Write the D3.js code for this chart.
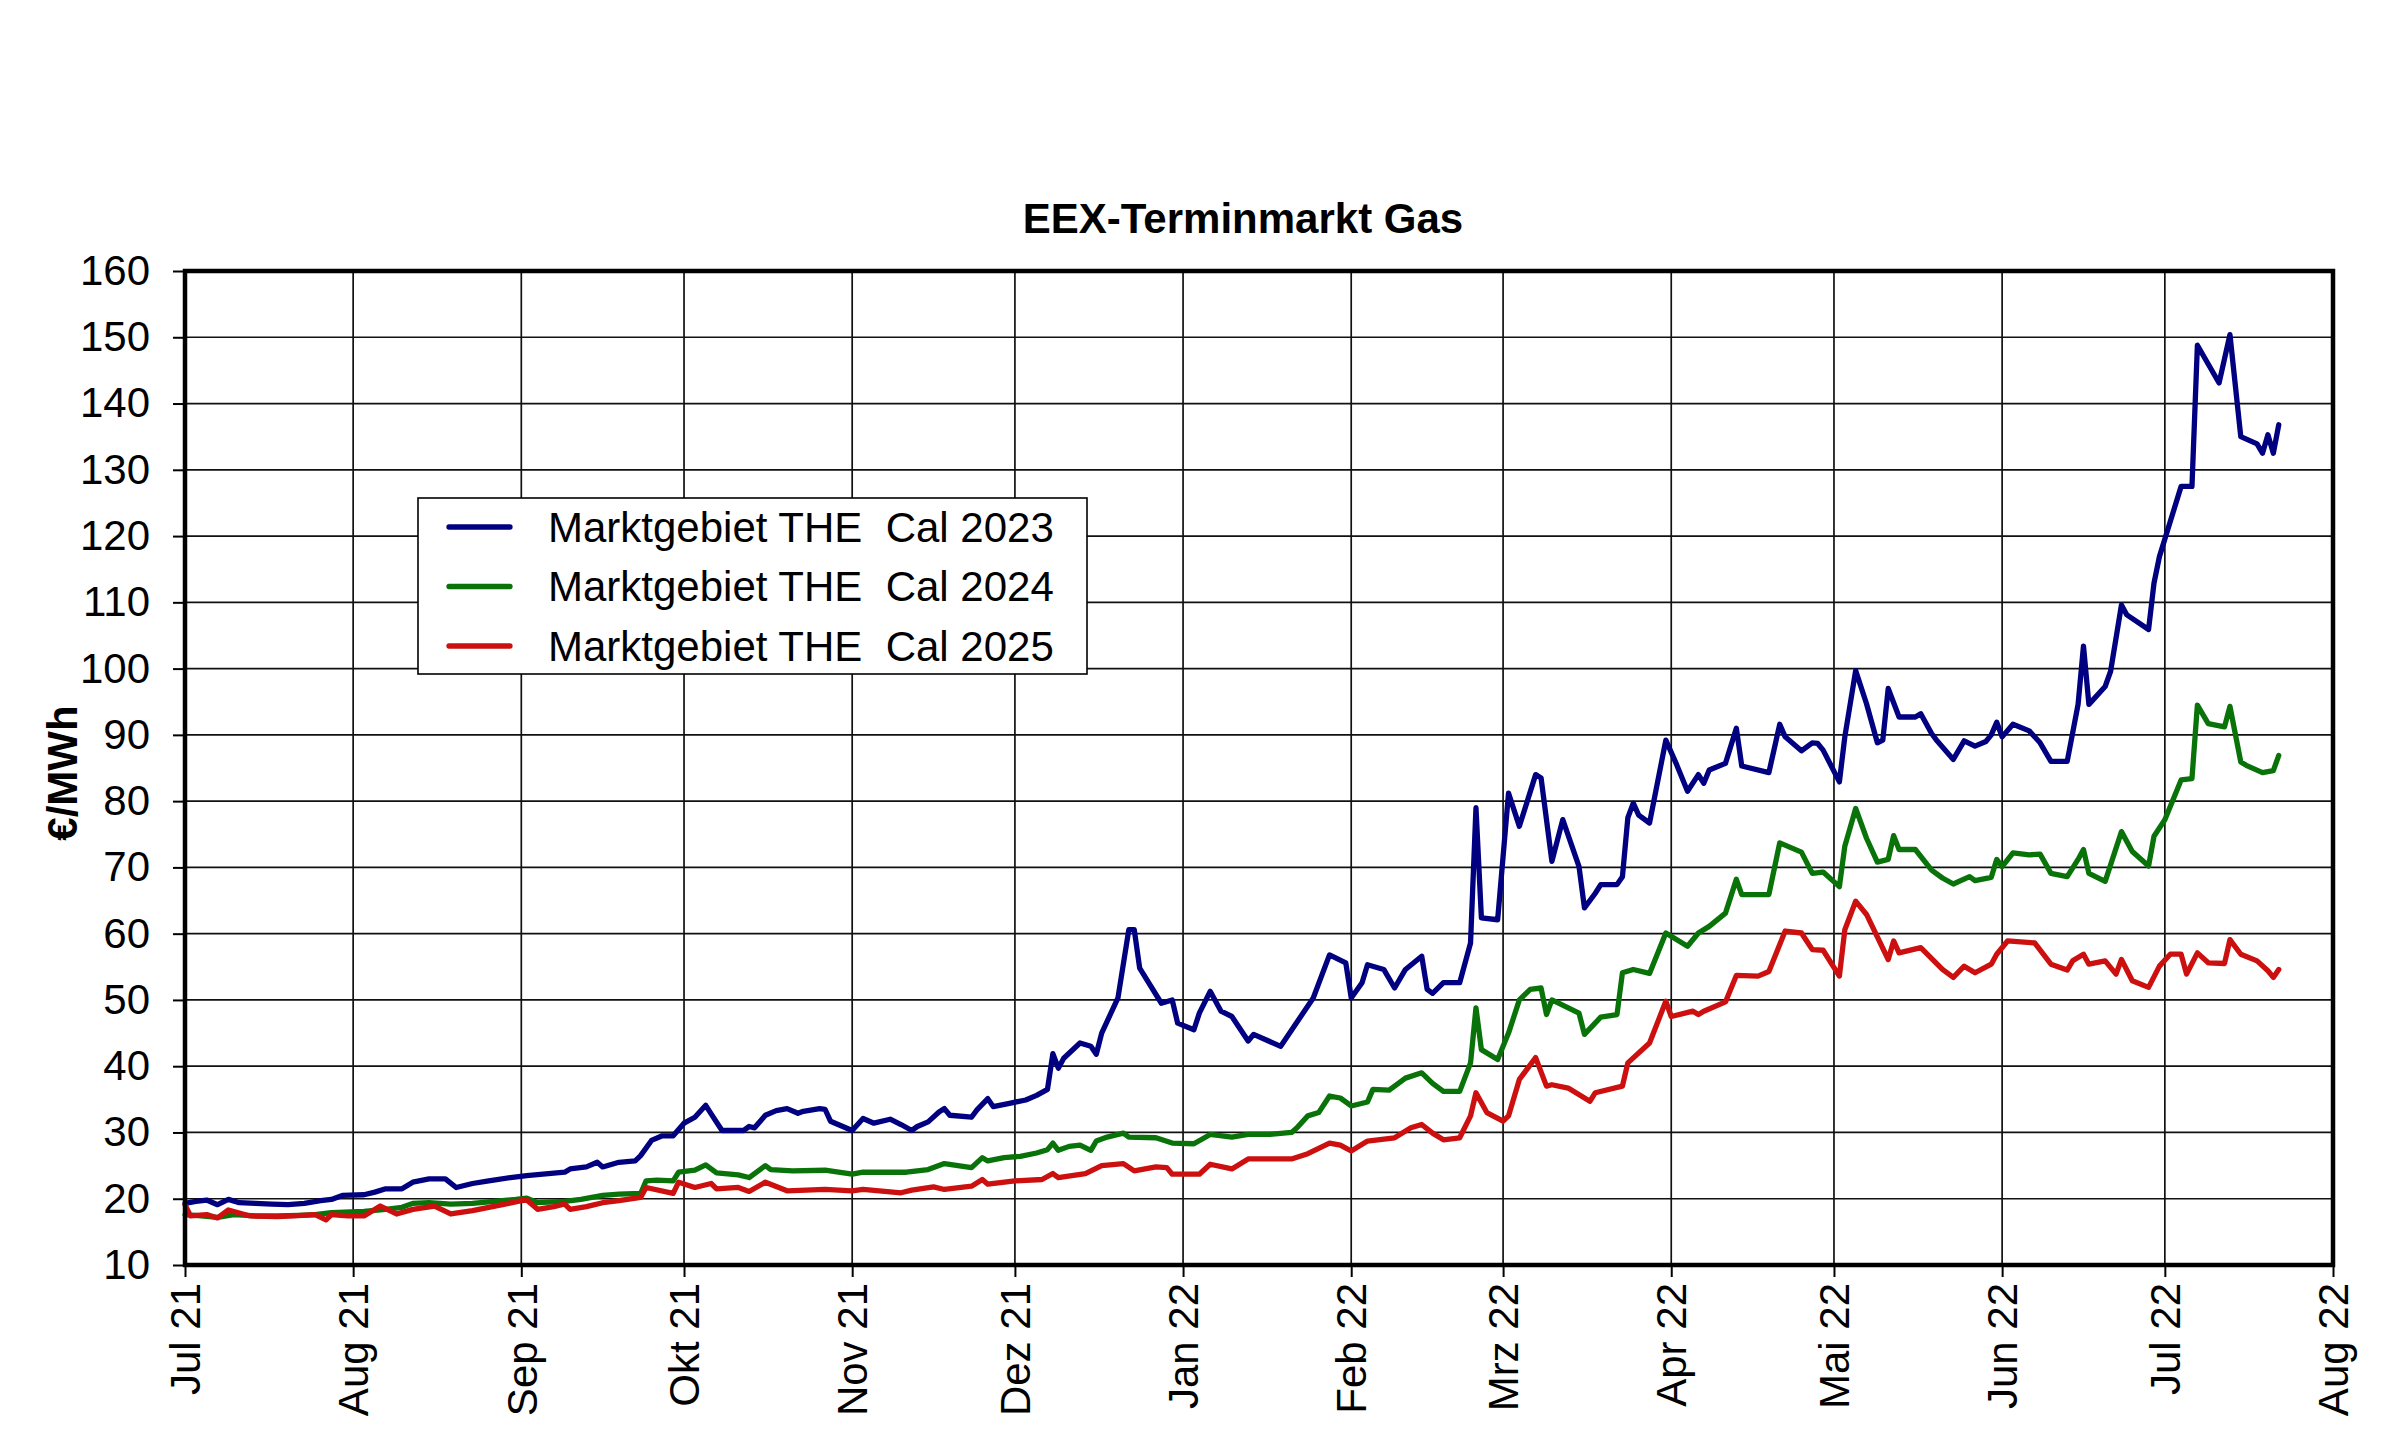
<!DOCTYPE html>
<html><head><meta charset="utf-8">
<script src="https://cdn.jsdelivr.net/npm/d3@7"></script>
<style>
body{margin:0;background:#fff}
text{font-family:"Liberation Sans",Arial,sans-serif;fill:#000}
</style>
</head><body>
<svg id="c" width="2400" height="1447"></svg>
<script>
const chartTitle = "EEX-Terminmarkt Gas";
const yAxisLabel = "€/MWh";
const monthTicks = ["210701","210801","210901","211001","211101","211201","220101","220201","220301","220401","220501","220601","220701","220801"];
const monthLabels = ["Jul 21","Aug 21","Sep 21","Okt 21","Nov 21","Dez 21","Jan 22","Feb 22","Mrz 22","Apr 22","Mai 22","Jun 22","Jul 22","Aug 22"];
const yTicks = [10,20,30,40,50,60,70,80,90,100,110,120,130,140,150,160];
const seriesNames = ["Marktgebiet THE  Cal 2023","Marktgebiet THE  Cal 2024","Marktgebiet THE  Cal 2025"];
const seriesColors = ["#000080","#097309","#cc1010"];

const dates2023 = ["210701","210703","210705","210707","210709","210711","210714","210717","210720","210723","210726","210728","210730","210803","210805","210807","210810","210812","210815","210818","210820","210823","210826","210830","210902","210905","210909","210910","210913","210915","210916","210919","210922","210923","210925","210927","210929","211001","211003","211005","211006","211008","211012","211013","211014","211016","211018","211020","211022","211023","211026","211027","211028","211101","211103","211105","211108","211110","211112","211113","211115","211117","211118","211119","211123","211124","211126","211127","211130","211203","211205","211207","211208","211209","211210","211213","211215","211216","211217","211220","211222","211223","211224","211228","211230","211231","220103","220104","220106","220108","220110","220113","220114","220119","220125","220128","220131","220201","220203","220204","220207","220209","220211","220214","220215","220216","220218","220221","220223","220224","220225","220228","220302","220304","220307","220308","220310","220312","220315","220316","220318","220319","220322","220323","220324","220325","220326","220328","220331","220402","220404","220406","220407","220408","220411","220413","220414","220419","220421","220422","220425","220427","220428","220429","220502","220503","220505","220507","220509","220510","220511","220513","220516","220517","220519","220520","220523","220525","220527","220529","220530","220531","220601","220603","220606","220608","220610","220613","220615","220616","220617","220620","220621","220623","220624","220628","220629","220630","220702","220704","220706","220707","220711","220713","220715","220718","220719","220720","220721","220722"];
const values2023 = [19.3,19.6,19.8,19.1,19.9,19.4,19.3,19.2,19.1,19.3,19.7,19.9,20.5,20.6,21.0,21.5,21.5,22.5,23.0,23.0,21.7,22.3,22.7,23.2,23.5,23.7,24.0,24.5,24.8,25.5,24.8,25.5,25.7,26.5,28.8,29.5,29.5,31.4,32.3,34.1,32.8,30.3,30.3,30.9,30.7,32.6,33.3,33.6,32.9,33.2,33.6,33.5,31.7,30.3,32.1,31.4,32.0,31.2,30.3,30.9,31.6,33.1,33.6,32.6,32.3,33.4,35.1,33.9,34.4,34.9,35.6,36.5,41.9,39.7,41.2,43.5,43.0,41.8,45.0,50.3,60.6,60.6,54.8,49.5,50.0,46.5,45.5,48.0,51.3,48.3,47.5,43.8,44.8,43.0,50.3,56.8,55.6,50.3,52.6,55.3,54.6,51.8,54.6,56.6,51.6,51.0,52.6,52.6,58.6,79.0,62.4,62.1,81.2,76.2,84.0,83.5,70.9,77.2,70.1,63.9,66.1,67.4,67.4,68.6,77.5,79.7,77.9,76.7,89.2,85.5,81.5,84.0,82.7,84.7,85.7,91.0,85.3,84.3,91.6,89.7,87.6,88.8,88.7,87.7,82.9,89.7,99.7,94.7,88.8,89.2,97.0,92.7,92.7,93.2,90.2,89.1,86.3,89.1,88.3,89.0,90.0,91.9,89.7,91.6,90.6,88.8,86.0,86.0,94.6,103.4,94.6,97.3,99.6,109.6,108.1,105.9,112.9,116.9,122.2,127.5,127.5,148.8,143.1,150.4,135.0,133.9,132.5,135.3,132.5,136.8];

const dates2024 = ["210701","210704","210707","210710","210714","210718","210722","210725","210728","210803","210807","210810","210812","210815","210819","210823","210827","210831","210902","210904","210909","210912","210916","210919","210923","210924","210926","210929","210930","211003","211005","211007","211011","211013","211016","211017","211021","211027","211101","211103","211111","211115","211118","211123","211125","211126","211129","211202","211205","211207","211208","211209","211211","211213","211215","211216","211218","211221","211222","211227","211230","220103","220106","220110","220113","220117","220121","220122","220124","220126","220128","220130","220201","220204","220205","220208","220211","220214","220216","220218","220221","220223","220224","220225","220228","220302","220304","220306","220308","220309","220310","220315","220316","220319","220322","220323","220325","220328","220331","220404","220406","220408","220411","220413","220414","220419","220421","220425","220427","220429","220502","220503","220505","220507","220509","220511","220512","220513","220516","220519","220521","220523","220526","220527","220530","220531","220601","220603","220606","220608","220610","220613","220615","220616","220617","220620","220623","220625","220628","220629","220701","220704","220706","220707","220709","220712","220713","220715","220716","220719","220721","220722"];
const values2024 = [17.6,17.4,17.2,17.6,17.4,17.4,17.5,17.6,17.9,18.1,18.4,18.7,19.3,19.4,19.2,19.3,19.6,19.9,20.1,19.4,19.6,19.9,20.5,20.7,20.8,22.7,22.8,22.7,24.0,24.3,25.1,23.9,23.6,23.2,25.0,24.4,24.2,24.3,23.7,24.0,24.0,24.4,25.3,24.7,26.2,25.7,26.2,26.4,26.9,27.4,28.4,27.3,27.9,28.1,27.3,28.7,29.3,29.9,29.3,29.2,28.4,28.3,29.7,29.3,29.7,29.7,30.0,30.7,32.5,33.0,35.5,35.2,34.0,34.6,36.5,36.4,38.2,39.0,37.4,36.2,36.2,40.5,48.8,42.5,41.0,45.0,50.0,51.6,51.8,47.8,50.0,48.0,44.8,47.4,47.8,54.1,54.6,54.0,60.1,58.1,60.1,61.1,63.1,68.2,65.9,65.9,73.7,72.3,69.1,69.3,67.1,73.2,78.9,74.4,70.8,71.2,74.8,72.7,72.7,69.6,68.4,67.5,68.6,68.0,68.5,71.2,70.1,72.2,71.9,72.0,69.1,68.6,71.2,72.7,69.1,67.9,75.4,72.4,70.2,74.7,77.2,83.2,83.4,94.5,91.7,91.2,94.3,85.9,85.4,84.3,84.6,86.9];

const dates2025 = ["210701","210702","210705","210707","210709","210713","210718","210721","210725","210727","210728","210731","210803","210806","210809","210812","210816","210819","210823","210826","210829","210901","210902","210904","210907","210909","210910","210913","210916","210919","210923","210924","210929","210930","211003","211006","211007","211011","211013","211016","211020","211027","211101","211103","211110","211112","211116","211118","211123","211125","211126","211201","211206","211208","211209","211214","211217","211221","211223","211227","211229","211230","220104","220106","220110","220113","220121","220124","220128","220130","220201","220204","220209","220212","220214","220216","220218","220221","220223","220224","220226","220301","220302","220304","220307","220309","220310","220313","220317","220318","220323","220324","220328","220331","220401","220405","220406","220407","220411","220413","220417","220419","220422","220425","220427","220429","220502","220503","220505","220507","220511","220512","220513","220517","220521","220523","220525","220527","220530","220531","220602","220607","220610","220613","220614","220616","220617","220620","220622","220623","220625","220628","220630","220702","220704","220705","220707","220709","220712","220713","220715","220718","220720","220721","220722"];
const values2025 = [19.1,17.4,17.6,17.1,18.3,17.4,17.3,17.4,17.6,16.8,17.6,17.4,17.4,18.9,17.7,18.4,18.9,17.7,18.2,18.7,19.2,19.7,19.8,18.4,18.8,19.2,18.4,18.8,19.4,19.7,20.2,21.7,20.8,22.5,21.7,22.3,21.5,21.7,21.1,22.5,21.2,21.4,21.2,21.4,20.9,21.3,21.8,21.4,21.9,22.9,22.2,22.7,22.9,23.8,23.2,23.8,25.0,25.3,24.2,24.8,24.7,23.7,23.7,25.2,24.5,26.0,26.0,26.8,28.4,28.1,27.2,28.7,29.2,30.7,31.2,29.9,28.9,29.2,32.5,36.0,33.0,31.7,32.5,38.0,41.3,37.0,37.2,36.7,34.7,36.0,37.0,40.5,43.5,49.8,47.5,48.3,47.8,48.3,49.7,53.7,53.6,54.3,60.4,60.1,57.6,57.5,53.6,60.6,64.9,62.9,56.1,58.9,57.1,57.9,54.6,53.4,55.1,54.1,55.4,56.9,58.9,58.6,55.4,54.5,55.9,56.9,55.4,55.9,53.9,56.1,52.9,51.9,55.1,56.9,56.9,53.9,57.1,55.6,55.5,59.1,56.9,55.9,54.4,53.4,54.6];

const parse = d3.timeParse("%y%m%d");
const svg = d3.select("#c");
const L = 185, R = 2333, T = 271, B = 1265;
const FONT = 42;
const LINE_W = 5.3;

const x = d3.scaleTime().domain([parse(monthTicks[0]), parse(monthTicks[monthTicks.length-1])]).range([L, R]);
const y = d3.scaleLinear().domain([10, 160]).range([B, T]);

svg.append("rect").attr("x",0).attr("y",0).attr("width",2400).attr("height",1447).attr("fill","#fff");

// gridlines
const grid = svg.append("g").attr("stroke","#111").attr("stroke-width",1.7);
grid.selectAll("line.h").data(yTicks).join("line").attr("class","h")
  .attr("x1",L).attr("x2",R).attr("y1",d=>y(d)).attr("y2",d=>y(d));
grid.selectAll("line.v").data(monthTicks).join("line").attr("class","v")
  .attr("x1",d=>x(parse(d))).attr("x2",d=>x(parse(d))).attr("y1",T).attr("y2",B);

// y axis
const yAxis = svg.append("g").attr("transform",`translate(${L},0)`)
  .call(d3.axisLeft(y).tickValues(yTicks).tickSize(12).tickPadding(23).tickFormat(d3.format("d")));
yAxis.select(".domain").remove();
yAxis.selectAll(".tick line").attr("stroke","#000").attr("stroke-width",2);
yAxis.selectAll(".tick text").style("font-size",FONT+"px").attr("fill","#000");

// x axis
const xAxis = svg.append("g").attr("transform",`translate(0,${B})`)
  .call(d3.axisBottom(x).tickValues(monthTicks.map(parse)).tickSize(12).tickFormat((d,i)=>monthLabels[i]));
xAxis.select(".domain").remove();
xAxis.selectAll(".tick line").attr("stroke","#000").attr("stroke-width",2);
xAxis.selectAll(".tick text")
  .style("font-size",FONT+"px").attr("fill","#000")
  .attr("transform","rotate(-90)")
  .attr("x",-18).attr("y",0).attr("dy","0.35em")
  .style("text-anchor","end");

// series
const series = [
  {name:seriesNames[0], color:seriesColors[0], dates:dates2023, values:values2023},
  {name:seriesNames[1], color:seriesColors[1], dates:dates2024, values:values2024},
  {name:seriesNames[2], color:seriesColors[2], dates:dates2025, values:values2025}
];
const line = d3.line().x(d=>x(d[0])).y(d=>y(d[1]));
series.forEach(s=>{
  const pts = s.dates.map((d,i)=>[parse(d), s.values[i]]);
  svg.append("path").datum(pts).attr("d",line)
    .attr("fill","none").attr("stroke",s.color).attr("stroke-width",LINE_W)
    .attr("stroke-linejoin","round").attr("stroke-linecap","round");
});

// plot border
svg.append("rect").attr("x",L).attr("y",T).attr("width",R-L).attr("height",B-T)
  .attr("fill","none").attr("stroke","#000").attr("stroke-width",4.5);

// title
svg.append("text").attr("x",1243).attr("y",233).attr("text-anchor","middle")
  .style("font-size",FONT+"px").style("font-weight","bold").text(chartTitle);

// y label
svg.append("text").attr("transform","translate(77,773) rotate(-90)").attr("text-anchor","middle")
  .style("font-size",FONT+"px").style("font-weight","bold").text(yAxisLabel);

// legend
const lg = svg.append("g");
lg.append("rect").attr("x",418).attr("y",498).attr("width",669).attr("height",176)
  .attr("fill","#fff").attr("stroke","#000").attr("stroke-width",1.6);
series.forEach((s,i)=>{
  const cy = 527 + i*59.5;
  lg.append("line").attr("x1",449).attr("x2",510).attr("y1",cy).attr("y2",cy)
    .attr("stroke",s.color).attr("stroke-width",LINE_W).attr("stroke-linecap","round");
  lg.append("text").attr("x",548).attr("y",cy).attr("dy","0.35em")
    .style("font-size",FONT+"px").style("white-space","pre").text(s.name);
});
</script>
</body></html>
